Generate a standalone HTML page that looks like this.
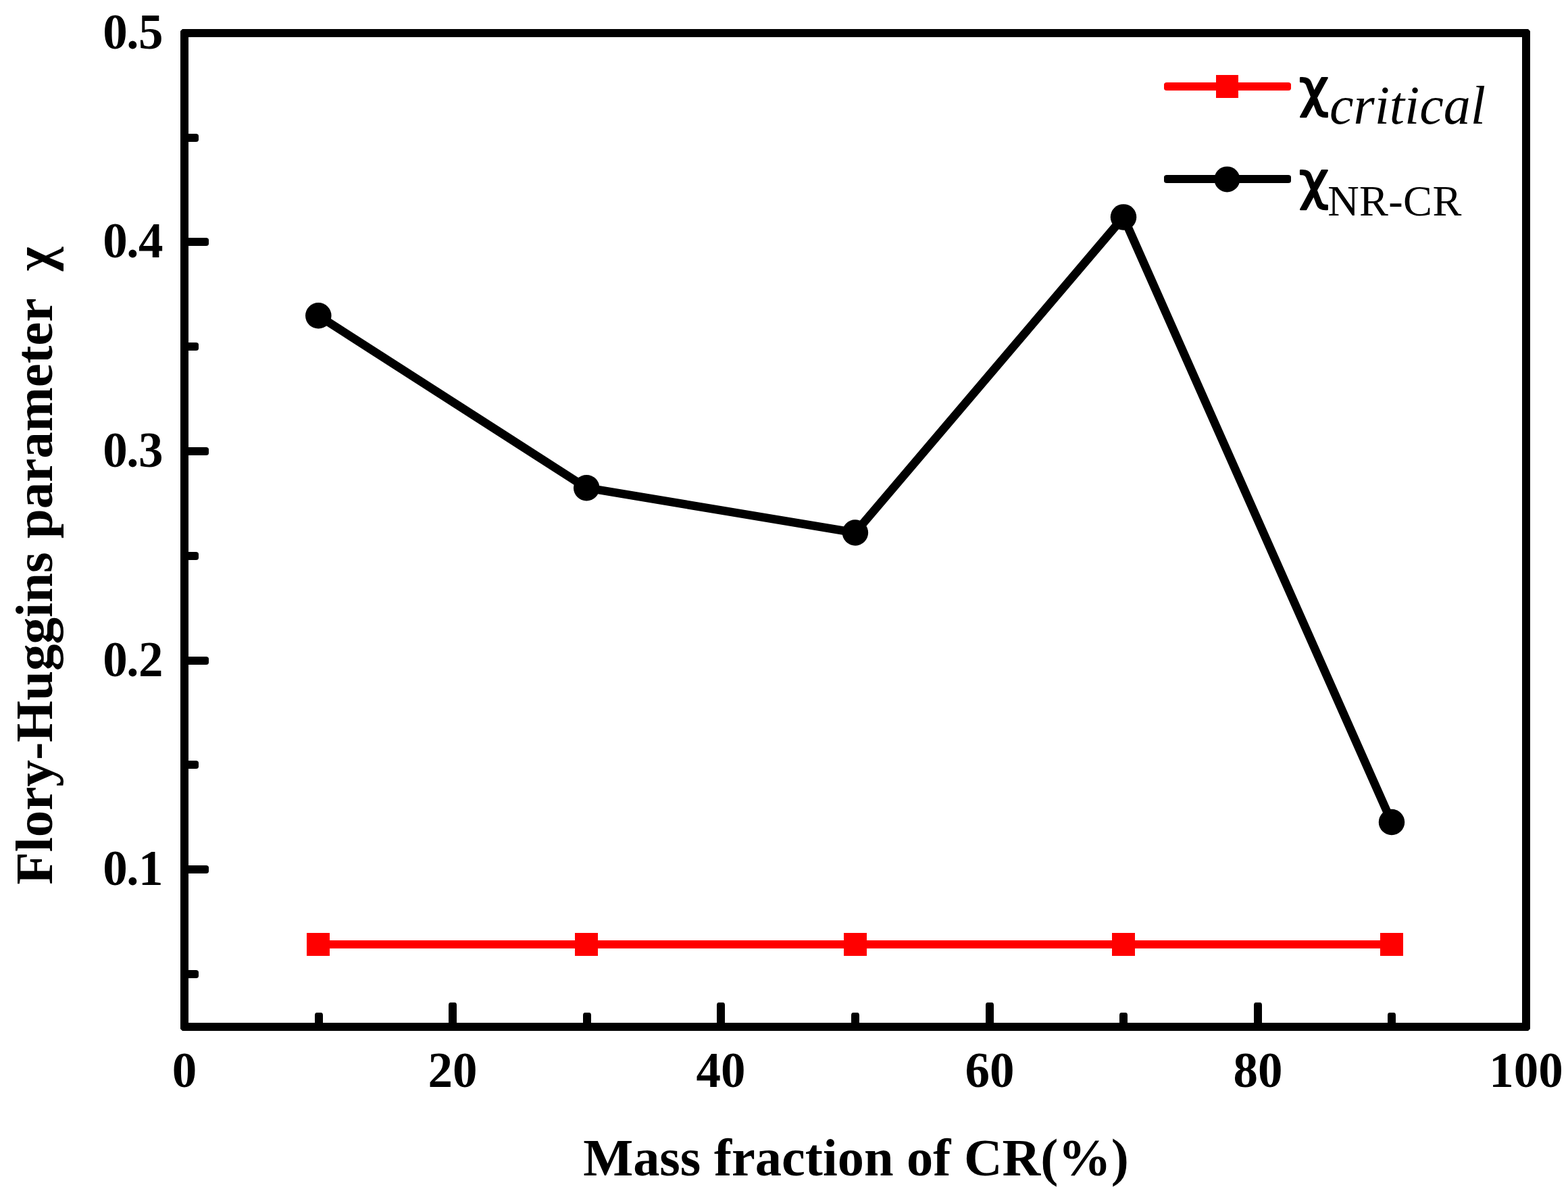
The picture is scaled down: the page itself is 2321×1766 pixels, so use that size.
<!DOCTYPE html>
<html lang="en"><head><meta charset="utf-8"><title>Flory-Huggins parameter vs mass fraction of CR</title>
<style>
html,body{margin:0;padding:0;background:#fff;}
body{width:2321px;height:1766px;overflow:hidden;}
svg{display:block;}
text{fill:#000;}
.b{font-family:"Liberation Serif",serif;font-weight:bold;}
.r{font-family:"Liberation Serif",serif;font-weight:normal;font-style:normal;stroke:none;}
.chi{font-family:"DejaVu Sans",sans-serif;font-weight:normal;font-style:normal;stroke:#000;stroke-width:2.5px;stroke-linejoin:round;}
.i{font-family:"Liberation Serif",serif;font-style:italic;font-weight:normal;stroke:none;}
</style></head><body>
<svg width="2321" height="1766" viewBox="0 0 2321 1766" role="img" aria-label="Flory-Huggins parameter versus mass fraction of CR">
<rect x="0" y="0" width="2321" height="1766" fill="#fff"/>
<g fill="#000">
<rect x="273" y="1436" width="21" height="12" rx="4" ry="3.5"/>
<rect x="273" y="1281" width="36" height="12" rx="4" ry="3.5"/>
<rect x="273" y="1126" width="21" height="12" rx="4" ry="3.5"/>
<rect x="273" y="972" width="36" height="12" rx="4" ry="3.5"/>
<rect x="273" y="817" width="21" height="12" rx="4" ry="3.5"/>
<rect x="273" y="662" width="36" height="12" rx="4" ry="3.5"/>
<rect x="273" y="507" width="21" height="12" rx="4" ry="3.5"/>
<rect x="273" y="352" width="36" height="12" rx="4" ry="3.5"/>
<rect x="273" y="198" width="21" height="12" rx="4" ry="3.5"/>
<rect x="466" y="1499" width="12" height="21" rx="3" ry="4"/>
<rect x="664" y="1484" width="12" height="36" rx="3" ry="4"/>
<rect x="863" y="1499" width="12" height="21" rx="3" ry="4"/>
<rect x="1061" y="1484" width="12" height="36" rx="3" ry="4"/>
<rect x="1260" y="1499" width="12" height="21" rx="3" ry="4"/>
<rect x="1459" y="1484" width="12" height="36" rx="3" ry="4"/>
<rect x="1657" y="1499" width="12" height="21" rx="3" ry="4"/>
<rect x="1856" y="1484" width="12" height="36" rx="3" ry="4"/>
<rect x="2054" y="1499" width="12" height="21" rx="3" ry="4"/>
</g>
<path d="M270,43 H2262 L2265,46 V1523 L2262,1526 H270 L267,1523 V46 Z M279,55 V1514 H2253 V55 Z" fill="#000" fill-rule="evenodd"/>
<g fill="#f00">
<rect x="471" y="1392" width="1589" height="12"/>
<rect x="454" y="1381" width="34" height="34"/>
<rect x="851" y="1381" width="34" height="34"/>
<rect x="1249" y="1381" width="34" height="34"/>
<rect x="1646" y="1381" width="34" height="34"/>
<rect x="2043" y="1381" width="34" height="34"/>
</g>
<polyline points="471.3,467.3 868.2,722.2 1265.9,788.5 1663,321.4 2060,1217" fill="none" stroke="#000" stroke-width="12.5" stroke-linejoin="round" stroke-linecap="round"/>
<g fill="#000">
<circle cx="471.3" cy="467.3" r="19.25"/>
<circle cx="868.2" cy="722.2" r="19.25"/>
<circle cx="1265.9" cy="788.5" r="19.25"/>
<circle cx="1663" cy="321.4" r="19.25"/>
<circle cx="2060" cy="1217" r="19.25"/>
</g>
<g class="b" font-size="73.0">
<text x="152.25 187.35 205" y="1309.5">0.1</text>
<text x="152.25 187.35 205" y="1000.5">0.2</text>
<text x="152.25 187.35 205" y="690.5">0.3</text>
<text x="152.25 187.35 205" y="380.5">0.4</text>
<text x="152.25 187.35 205" y="71.5">0.5</text>
</g>
<g class="b" font-size="73.0" text-anchor="middle">
<text x="273" y="1608.8">0</text>
<text x="670" y="1608.8">20</text>
<text x="1067" y="1608.8">40</text>
<text x="1465" y="1608.8">60</text>
<text x="1862" y="1608.8">80</text>
<text x="2259" y="1608.8">100</text>
</g>
<text class="b" font-size="78.4" text-anchor="middle" x="1267" y="1739.6">Mass fraction of CR(%)</text>
<text class="b" font-size="79.15" transform="translate(77,1309.6) rotate(-90)" x="0" y="0">Flory-Huggins parameter <tspan font-size="81.0" x="908.4" textLength="35.4" lengthAdjust="spacingAndGlyphs">χ</tspan></text>
<rect x="1723" y="122" width="188" height="12" rx="4" ry="3.5" fill="#f00"/>
<rect x="1800" y="111" width="33" height="34" fill="#f00"/>
<rect x="1723" y="259" width="188" height="12" rx="4" ry="3.5" fill="#000"/>
<circle cx="1816.4" cy="265.4" r="19" fill="#000"/>
<text class="chi" font-size="75.9" x="1923" y="156.9">χ<tspan class="i" font-size="80.0" x="1968" y="182.8">critical</tspan></text>
<text class="chi" font-size="75.9" x="1923" y="293.9">χ<tspan class="r" font-size="64.3" letter-spacing="0.4" x="1965.2" y="319.1">NR-CR</tspan></text>
</svg>
</body></html>
